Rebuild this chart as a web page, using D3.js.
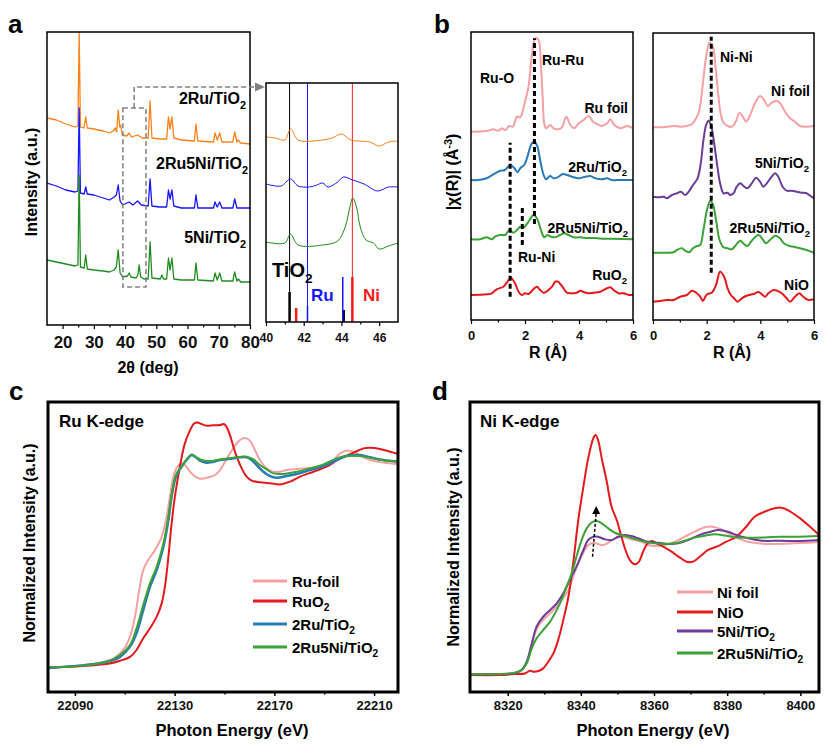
<!DOCTYPE html>
<html><head><meta charset="utf-8">
<script src="https://cdn.jsdelivr.net/npm/d3@7"></script>
<style>body{margin:0;background:#fff}</style>
</head><body><svg id="c" width="831" height="747"></svg>
<script>
// ---------- DATA ----------
// Panel a: XRD (2θ in deg, intensity a.u., stacked)
const xrdTicks = [20,30,40,50,60,70,80];
const xrdMinor = [25,35,45,55,65,75];
const xrd2Ru = [[15,207],[18,205],[21,201],[24,198],[24.9,199],[25.3,293],[25.7,198],[26.8,197],[27.4,208],[27.9,197],[30,196],[33,194],[35,192],[36.2,194],[36.9,197],[37.3,193],[37.8,215],[38.3,198],[38.6,200],[39.1,190],[40.5,189],[41.3,192],[42,188],[44,190],[45.5,187],[47.4,187],[48,224],[48.6,187],[51,186],[53.3,186],[53.9,208],[54.4,196],[55.0,208],[55.6,187],[58,185],[62.2,184],[62.7,201],[63.3,184],[68.3,183],[68.8,192],[69.5,185],[70.3,192],[71,183],[74.5,183],[75.1,193],[75.8,183],[76.2,185],[77,182],[80,181]];
const xrd2Ru5Ni = [[15,142],[18,139],[21,135],[24,133],[24.9,134],[25.3,217],[25.7,132],[26.9,131],[27.4,138],[27.9,131],[30,130],[33,127],[35,125],[36.5,128],[37.2,130],[37.8,140],[38.4,124],[39.2,120],[41.3,123],[42.5,120],[44,124],[45.2,120],[47.4,119],[48,146],[48.6,119],[51,118],[53.3,118],[53.9,135],[54.4,126],[55,135],[55.6,119],[58,117],[62.2,117],[62.7,130],[63.3,117],[68.3,117],[68.8,123],[69.5,118],[70.3,123],[71,117],[74.5,117],[75.1,126],[75.8,117],[80,117]];
const xrd5Ni = [[15,65],[18,63],[21,61],[24,59],[24.9,60],[25.3,150],[25.7,58],[26.9,57],[27.4,70],[27.9,56],[30,55],[33,54],[35,53],[36.5,55],[37.2,58],[37.8,75],[38.4,52],[39.2,48],[40.8,49],[41.3,52],[41.9,48],[43.5,47],[44.1,50],[44.5,60],[45,48],[46,46],[47.4,46],[48,83],[48.6,47],[51.3,46],[51.8,50],[52.3,46],[53.3,46],[53.9,67],[54.4,55],[55,67],[55.6,46],[58,45],[62.2,45],[62.7,62],[63.3,45],[68.3,44],[68.8,52],[69.5,45],[70.3,52],[71,44],[74.5,44],[75.1,53],[75.8,44],[76.3,46],[77,43],[80,43]];
// Inset (40-47 deg)
const insetTicks = [40,42,44,46];
const insetMinor = [41,43,45];
const inset2Ru = [[40,185],[40.5,184],[41.0,182],[41.3,193],[41.7,182],[42.5,181],[43.5,184],[44.0,188],[44.5,182],[45.5,180],[46.0,176],[46.5,180],[47,181]];
const inset2Ru5Ni = [[40,138],[40.8,136],[41.3,143],[41.7,136],[42.3,135],[42.7,137],[43.0,139],[43.3,135],[43.8,140],[44.1,145],[44.6,142],[45.2,138],[45.9,131],[46.5,135],[47,135]];
const inset5Ni = [[40,80],[41.0,79],[41.3,88],[41.7,77],[43,77],[43.8,81],[44.2,95],[44.45,115],[44.6,124],[44.8,115],[45.0,95],[45.3,82],[45.7,79],[46.0,73],[46.5,76],[47,79]];
const tio2Line = 41.25, ruLine = 42.2, niLine = 44.58;
const tio2Bars = [[41.25,30],[44.12,12]];
const ruBars = [[42.2,16],[44.07,45]];
const niBars = [[41.6,14],[44.58,45]];

// Panel b: EXAFS |χ(R)| (R in Å, stacked a.u.)
const rTicks = [0,2,4,6], rMinor = [1,3,5];
const ftRuFoil = [[0,188.3],[.58,189],[.83,190.7],[1.01,189.3],[1.14,191.7],[1.26,190],[1.42,194],[1.55,193.3],[1.70,203.3],[1.82,202.7],[2.00,218.3],[2.13,233.3],[2.25,263.3],[2.38,281.7],[2.50,280],[2.59,253.3],[2.66,220],[2.71,196.7],[2.78,191.7],[2.93,195],[3.06,191.7],[3.24,190.7],[3.37,192.7],[3.53,203.3],[3.68,195],[3.82,191.7],[3.99,196.7],[4.17,200],[4.36,204],[4.52,198.3],[4.67,196],[4.85,194],[5.04,196.7],[5.16,200.7],[5.31,195],[5.53,191.7],[5.78,194],[6.0,191.7]];
const ft2RuTi = [[0,140],[.27,140],[.58,141.7],[.89,146.7],[1.08,149.3],[1.26,150],[1.45,155],[1.61,151.7],[1.72,147.7],[1.82,151.7],[1.97,155],[2.09,163.3],[2.25,176.7],[2.35,178.3],[2.46,173.3],[2.56,160],[2.69,145],[2.78,140.7],[2.93,144],[3.06,141.7],[3.21,142.7],[3.40,146],[3.55,145],[3.74,143.3],[3.99,141.7],[4.23,143.3],[4.42,144],[4.60,141.7],[4.85,140.7],[5.04,141.7],[5.22,140],[5.53,140],[6.0,140]];
const ft2Ru5NiRu = [[0,80.7],[.33,80.7],[.58,82.7],[.77,80.7],[.89,83.3],[1.08,85],[1.26,85],[1.42,90],[1.57,87.3],[1.70,90],[1.82,93.3],[1.94,92.3],[2.04,95],[2.17,100],[2.31,105],[2.44,101.7],[2.59,90],[2.71,82.7],[2.83,85],[2.96,83.3],[3.12,82.7],[3.30,85],[3.45,86.7],[3.61,85],[3.80,82.7],[4.05,82.7],[4.29,82],[4.54,82],[4.85,81.3],[5.28,81.3],[6.0,80.7]];
const ftRuO2 = [[0,25],[.58,25.7],[.77,26.7],[.95,30.7],[1.20,33.3],[1.35,38.3],[1.47,42.3],[1.63,36.7],[1.76,28.3],[1.88,25],[2.00,26.7],[2.13,26],[2.31,30.7],[2.44,33.3],[2.56,30],[2.69,27.3],[2.81,28.7],[3.00,33.3],[3.12,38.3],[3.22,38.3],[3.37,34],[3.55,27.3],[3.70,26.7],[3.92,27.3],[4.05,29.3],[4.17,28],[4.36,26.7],[4.54,27.3],[4.79,28.3],[5.04,31.7],[5.16,32.7],[5.28,30],[5.47,26.7],[5.66,26.7],[5.84,25],[6.0,25]];
const ruMarks = [[2.35,96,281.7],[1.45,23.3,177.3],[1.9,75,114]];
const ftNiFoil = [[0,192.7],[.27,192.7],[.52,193.3],[.77,194],[1.02,193.3],[1.26,194],[1.45,196],[1.61,201.7],[1.73,210],[1.86,236.7],[1.98,263.3],[2.11,277.3],[2.23,273.3],[2.33,253.3],[2.44,223.3],[2.53,205],[2.63,197.3],[2.78,194],[2.94,193.3],[3.10,199.3],[3.22,207.3],[3.35,203.3],[3.47,198.3],[3.62,205],[3.80,216.7],[3.99,224],[4.14,220],[4.28,214],[4.42,217.3],[4.61,219.3],[4.76,216],[4.92,208.3],[5.11,201.7],[5.29,198.3],[5.48,194],[5.72,193.3],[6.0,194]];
const ft5NiTi = [[0,123.3],[.21,122.7],[.40,123.3],[.52,121.7],[.71,125],[.89,126.7],[1.04,128.3],[1.20,125],[1.33,128.3],[1.49,135],[1.66,141.7],[1.78,156.7],[1.88,180],[1.98,195],[2.07,199.3],[2.16,195],[2.28,176.7],[2.40,153.3],[2.50,136.7],[2.63,126.7],[2.78,127.3],[2.87,125],[3.00,126.7],[3.12,133.3],[3.25,136.7],[3.40,133.3],[3.52,131.7],[3.68,136.7],[3.84,142.3],[3.99,138.3],[4.11,133.3],[4.24,136.7],[4.42,143.3],[4.55,146.7],[4.67,143.3],[4.83,133.3],[4.98,129.3],[5.17,129.3],[5.35,128.3],[5.54,127.3],[5.72,126.7],[5.87,124],[6.0,121.7]];
const ft2Ru5NiNi = [[0,67.3],[.27,67.3],[.52,67.3],[.77,67.7],[.89,70],[1.08,71.7],[1.20,69.3],[1.35,67.7],[1.49,71.7],[1.64,74],[1.76,75],[1.88,90],[2.01,110],[2.13,119],[2.23,116],[2.35,100],[2.48,80],[2.63,72.7],[2.78,71.7],[2.94,70.7],[3.06,74],[3.25,79.3],[3.40,75.7],[3.52,74],[3.68,79.3],[3.93,85],[4.09,80.7],[4.21,76.7],[4.36,80],[4.55,84.3],[4.71,82.3],[4.88,76.7],[5.08,74],[5.25,73.3],[5.48,71.7],[5.72,70],[6.0,67.3]];
const ftNiO = [[0,18.3],[.27,19],[.52,20],[.77,20],[1.02,23.3],[1.26,25],[1.45,29.3],[1.61,27.3],[1.76,23.3],[1.86,19],[1.95,23.3],[2.03,26],[2.19,27.3],[2.35,35],[2.50,48.3],[2.65,43.3],[2.78,31.7],[2.90,25],[3.02,21.7],[3.15,18.3],[3.31,21.7],[3.49,24.3],[3.74,26],[3.93,28],[4.05,26],[4.18,23.3],[4.30,26.7],[4.49,30],[4.63,29.3],[4.80,26.7],[4.98,21.7],[5.11,18.3],[5.29,23.3],[5.45,26.7],[5.60,23.3],[5.79,20],[6.0,20.7]];
const niMarks = [[2.17,47.3,283.3]];

// Panel c: Ru K-edge XANES (eV, normalized)
const ruTicks = [22090,22130,22170,22210], ruMinor = [22110,22150,22190];
const xRuFoil = [[22079.3,.002],[22093.3,.014],[22100,.026],[22105.4,.046],[22109.4,.087],[22112.1,.151],[22114.1,.247],[22115.8,.375],[22117.4,.471],[22119.4,.519],[22122.1,.567],[22124.8,.631],[22126.8,.728],[22128.1,.824],[22129.5,.920],[22131.1,.968],[22132.8,.984],[22134.1,.976],[22136.2,.944],[22138.8,.917],[22140.8,.910],[22143.5,.917],[22146.2,.928],[22148.2,.952],[22150.2,.992],[22152.2,1.032],[22154.9,1.080],[22157.3,1.104],[22158.9,1.104],[22160.5,1.088],[22162.2,1.048],[22164.2,1.0],[22166.9,.960],[22169.6,.944],[22172.3,.944],[22174.9,.952],[22179,.957],[22184.3,.963],[22188.3,.968],[22192.3,.984],[22196.4,1.032],[22199,1.045],[22201,1.043],[22203,1.032],[22205.7,1.013],[22208.4,1.0],[22212.4,.990],[22216.4,.984],[22219.8,.979]];
const xRuO2 = [[22079.3,.002],[22093.3,.010],[22104,.022],[22108.1,.035],[22112.1,.054],[22114.7,.087],[22117.4,.143],[22120.1,.191],[22122.8,.247],[22124.8,.311],[22126.1,.391],[22127.5,.535],[22128.8,.696],[22130.1,.824],[22132.1,.968],[22134.1,1.080],[22136.2,1.144],[22137.8,1.176],[22139.1,1.181],[22140.8,1.173],[22142.8,1.165],[22145.5,1.167],[22148.2,1.168],[22149.8,1.173],[22150.9,1.157],[22152.2,1.120],[22153.5,1.067],[22154.9,1.016],[22156.9,.960],[22158.9,.920],[22160.9,.901],[22164.2,.893],[22168.3,.888],[22172.3,.883],[22176.3,.896],[22180.3,.920],[22185.7,.944],[22191,.968],[22196.4,1.008],[22201.7,1.035],[22205.7,1.056],[22208.4,1.059],[22212.4,1.053],[22216.4,1.040],[22219.8,1.029]];
const xRu2Ti = [[22079.3,.002],[22093.3,.013],[22102.7,.029],[22108.1,.054],[22112.1,.103],[22114.7,.167],[22117.4,.279],[22120.1,.391],[22122.8,.471],[22125.5,.583],[22127.5,.712],[22128.8,.824],[22130.5,.920],[22132.8,.968],[22134.8,1.0],[22136.8,1.024],[22138.2,1.016],[22140.2,.997],[22142.8,.987],[22145.5,.992],[22148.2,1.0],[22152.2,1.006],[22156.2,1.013],[22158.9,1.013],[22160.9,1.0],[22162.9,.976],[22165.6,.944],[22168.3,.923],[22170.9,.915],[22174.9,.923],[22179,.933],[22184.3,.952],[22189.7,.971],[22195,1.0],[22199,1.019],[22204.4,1.024],[22208.4,1.013],[22213.7,1.0],[22219.8,.992]];
const xRu2Ni5Ti = [[22079.3,.002],[22093.3,.013],[22102.7,.030],[22108.1,.063],[22112.1,.111],[22114.7,.191],[22117.4,.303],[22120.1,.407],[22122.8,.487],[22125.5,.599],[22127.5,.728],[22128.8,.832],[22130.5,.928],[22132.8,.971],[22134.8,1.003],[22136.8,1.026],[22138.8,1.013],[22140.8,1.0],[22144.2,.995],[22148.2,1.003],[22153.5,1.011],[22158.9,1.016],[22161.6,1.003],[22164.2,.976],[22166.9,.955],[22169.6,.936],[22173.6,.933],[22179,.944],[22184.3,.960],[22189.7,.979],[22195,1.008],[22199,1.019],[22204.4,1.019],[22209.7,1.008],[22215,.997],[22219.8,.994]];

// Panel d: Ni K-edge XANES
const niTicks = [8320,8340,8360,8380,8400], niMinor = [8330,8350,8370,8390];
const xNiFoil = [[8309.7,0],[8317.5,.002],[8322,.012],[8323.8,.032],[8325.2,.083],[8326.4,.208],[8327.5,.309],[8328.8,.384],[8330.6,.434],[8332.5,.485],[8334.7,.560],[8336.6,.636],[8337.9,.736],[8339.3,.836],[8340.7,.917],[8342,.974],[8343.4,.992],[8344.7,.982],[8346.1,.974],[8347.5,.992],[8349.3,1.025],[8351.1,1.037],[8352.9,1.025],[8354.8,1.012],[8356.6,.999],[8358.4,.974],[8360.2,.967],[8362.9,.974],[8365.7,.999],[8368.4,1.037],[8371.1,1.075],[8373.9,1.108],[8376.1,1.112],[8378.4,1.092],[8380.7,1.057],[8383,1.025],[8385.7,.999],[8388.4,.987],[8391.2,.982],[8394.8,.982],[8398.4,.987],[8402.1,.992],[8405.1,.997]];
const xNiO = [[8309.7,-.005],[8317.5,-.005],[8322,.002],[8324.7,.007],[8326.1,.027],[8327,.020],[8328.4,.025],[8329.7,.045],[8331.1,.095],[8332.5,.158],[8333.8,.258],[8335.2,.409],[8336.6,.585],[8337.9,.836],[8339.3,1.163],[8340.7,1.414],[8342,1.627],[8343.4,1.778],[8344,1.803],[8344.7,1.766],[8345.8,1.615],[8347,1.464],[8348.4,1.263],[8349.8,1.163],[8351.1,1.037],[8352.2,.937],[8353.4,.861],[8354.8,.829],[8355.9,.849],[8357,.924],[8358.4,.992],[8359.5,1.004],[8360.7,.987],[8362.5,.962],[8364.8,.924],[8367,.881],[8368.9,.849],[8370.7,.849],[8372.5,.886],[8374.8,.937],[8377.1,.962],[8379.8,1.0],[8382.5,1.037],[8385.2,1.112],[8387.5,1.188],[8390.2,1.225],[8393,1.251],[8394.8,1.256],[8396.6,1.238],[8399.3,1.188],[8402.1,1.125],[8405.1,1.050]];
const xNi5Ti = [[8309.7,0],[8317.5,.002],[8321.5,.007],[8323.8,.032],[8325.2,.095],[8326.6,.233],[8327.9,.359],[8329.7,.434],[8331.6,.485],[8333.4,.535],[8335.2,.611],[8337,.711],[8338.8,.811],[8340.7,.937],[8342,1.012],[8343.4,1.037],[8344.7,1.037],[8346.6,1.017],[8348.4,1.012],[8350.2,1.037],[8352,1.050],[8353.8,1.042],[8355.7,1.025],[8358.4,.999],[8361.1,.992],[8363.9,.982],[8366.6,.987],[8369.3,1.012],[8372,1.045],[8374.8,1.070],[8377.5,1.087],[8380.2,1.075],[8383,1.045],[8385.7,1.025],[8389.3,1.007],[8394.8,1.007],[8399.3,1.004],[8405.1,1.012]];
const xNiRu2Ni5Ti = [[8309.7,0],[8317.5,.002],[8322,.012],[8323.8,.032],[8325.2,.083],[8326.6,.196],[8327.9,.271],[8329.7,.334],[8331.6,.397],[8333.4,.485],[8334.7,.560],[8336.1,.661],[8337.5,.761],[8338.8,.886],[8340.2,1.012],[8341.6,1.100],[8342.9,1.143],[8344.3,1.155],[8345.7,1.138],[8347.5,1.100],[8349.3,1.067],[8351.1,1.050],[8352.9,1.037],[8354.8,1.020],[8357.5,.999],[8360.2,.987],[8362.9,.982],[8365.7,.987],[8368.4,1.007],[8371.1,1.030],[8373.9,1.045],[8376.6,1.055],[8379.3,1.047],[8382.1,1.032],[8385.7,1.030],[8390.2,1.032],[8394.8,1.037],[8399.3,1.037],[8405.1,1.042]];
const niArrow = [[8343.2,.886],[8344.2,1.268]];

// ---------- DRAWING ----------
const FONT = "Arial, 'Liberation Sans', Helvetica, sans-serif";
const svg = d3.select("#c");
svg.append("rect").attr("width",831).attr("height",747).attr("fill","#fff");
const C = {orange:"#ff8019", blue:"#1616ff", green:"#1f8c1f", pink:"#f6a0a4", red:"#e3191c", sblue:"#2a7ab8", sgreen:"#3aa236", purple:"#6a3d9a"};

function rich(g, x, y, str, size, opt={}) {
  const t = g.append("text").attr("x",x).attr("y",y).attr("font-size",size)
    .attr("font-family",FONT).attr("font-weight","bold")
    .attr("text-anchor",opt.anchor||"start").attr("fill",opt.color||"#000");
  if (opt.rotate) t.attr("transform",`rotate(${opt.rotate},${x},${y})`);
  const parts = str.split(/(_\{[^}]*\}|\^\{[^}]*\}|_.|\^.)/).filter(s=>s.length);
  let off = 0;
  parts.forEach(p=>{
    if (p[0]==="_"||p[0]==="^") {
      const txt = p[1]==="{" ? p.slice(2,-1) : p.slice(1);
      const sh = p[0]==="_" ? size*0.3 : -size*0.4;
      t.append("tspan").attr("dy",sh-off).attr("font-size",size*0.68).text(txt);
      off = sh;
    } else {
      t.append("tspan").attr("dy",-off).text(p);
      off = 0;
    }
  });
  return t;
}
function frame(g,x0,y0,x1,y1,w){
  g.append("rect").attr("x",x0).attr("y",y0).attr("width",x1-x0).attr("height",y1-y0)
   .attr("fill","none").attr("stroke","#000").attr("stroke-width",w);
}
function bottomAxis(g, scale, y, major, minor, size, pad, sw) {
  const a = g.append("g").attr("transform",`translate(0,${y})`)
    .call(d3.axisBottom(scale).tickValues(major).tickSize(4).tickPadding(pad).tickFormat(d3.format("d")));
  a.select(".domain").remove();
  a.selectAll("line").attr("stroke","#000").attr("stroke-width",sw);
  a.selectAll("text").attr("font-size",size).attr("font-family",FONT).attr("font-weight","bold").attr("fill","#111");
  if (minor) {
    const m = g.append("g").attr("transform",`translate(0,${y})`)
      .call(d3.axisBottom(scale).tickValues(minor).tickSize(2.5).tickFormat(""));
    m.select(".domain").remove();
    m.selectAll("line").attr("stroke","#000").attr("stroke-width",sw);
  }
}
let clipId = 0;
function clip(g,x0,y0,x1,y1){
  const id = "cl"+(clipId++);
  svg.append("clipPath").attr("id",id).append("rect").attr("x",x0).attr("y",y0).attr("width",x1-x0).attr("height",y1-y0);
  return g.append("g").attr("clip-path",`url(#${id})`);
}
function path(g, data, x, y, color, w, curve){
  g.append("path").datum(data).attr("fill","none").attr("stroke",color).attr("stroke-width",w)
   .attr("stroke-linejoin","round")
   .attr("d", d3.line().x(d=>x(d[0])).y(d=>y(d[1])).curve(curve||d3.curveLinear));
}
const smooth = d3.curveCatmullRom.alpha(0.5);

// ---- Panel a ----
const ga = svg.append("g");
const xa = d3.scaleLinear().domain([15,80]).range([47,250]);
const ya = d3.scaleLinear().domain([0,293]).range([325,32]);
const pa = clip(ga,47,32,250,325);
path(pa, xrd2Ru, xa, ya, C.orange, 1.3);
path(pa, xrd2Ru5Ni, xa, ya, C.blue, 1.3);
path(pa, xrd5Ni, xa, ya, C.green, 1.3);
frame(ga,47,32,250,325,1.5);
bottomAxis(ga, xa, 325, xrdTicks, xrdMinor, 17, 7, 1.2);
rich(ga, 246, 104, "2Ru/TiO_2", 16, {anchor:"end"});
rich(ga, 248, 169, "2Ru5Ni/TiO_2", 16, {anchor:"end"});
rich(ga, 246, 243, "5Ni/TiO_2", 16, {anchor:"end"});
rich(ga, 37, 182, "Intensity (a.u.)", 16, {anchor:"middle", rotate:-90});
rich(ga, 148, 373, "2θ (deg)", 16, {anchor:"middle"});
rich(ga, 8, 33, "a", 26);
// zoom box + connector
ga.append("rect").attr("x",xa(39.3)).attr("y",ya(217)).attr("width",xa(46.7)-xa(39.3)).attr("height",ya(38)-ya(217))
  .attr("fill","none").attr("stroke","#808080").attr("stroke-width",1.5).attr("stroke-dasharray","5,3");
ga.append("path").attr("d",`M${xa(42.9)},${ya(217)}V87H256`).attr("fill","none").attr("stroke","#808080")
  .attr("stroke-width",1.5).attr("stroke-dasharray","5,3");
ga.append("path").attr("d","M255,82.5L265,87L255,91.5Z").attr("fill","#808080");

// ---- Inset ----
const gi = svg.append("g");
const xi = d3.scaleLinear().domain([40,47]).range([266,398]);
const yi = d3.scaleLinear().domain([0,239]).range([322,83]);
const pi = clip(gi,266,83,398,322);
pi.append("line").attr("x1",xi(tio2Line)).attr("x2",xi(tio2Line)).attr("y1",83).attr("y2",322).attr("stroke","#000").attr("stroke-width",1);
pi.append("line").attr("x1",xi(ruLine)).attr("x2",xi(ruLine)).attr("y1",83).attr("y2",322).attr("stroke","#1616ff").attr("stroke-width",1);
pi.append("line").attr("x1",xi(niLine)).attr("x2",xi(niLine)).attr("y1",83).attr("y2",322).attr("stroke","#ff1a1a").attr("stroke-width",1);
path(pi, inset2Ru, xi, yi, C.orange, 1, smooth);
path(pi, inset2Ru5Ni, xi, yi, C.blue, 1, smooth);
path(pi, inset5Ni, xi, yi, C.green, 1, smooth);
[[tio2Bars,"#000",2.5],[ruBars,"#1616ff",1.5],[niBars,"#ff1a1a",2.5]].forEach(([bars,col,w])=>{
  bars.forEach(b=>pi.append("line").attr("x1",xi(b[0])).attr("x2",xi(b[0])).attr("y1",yi(0)).attr("y2",yi(b[1]))
    .attr("stroke",col).attr("stroke-width",w));
});
frame(gi,266,83,398,322,1.5);
bottomAxis(gi, xi, 322, insetTicks, insetMinor, 12, 7.5, 1.2);
rich(gi, 272, 277, "TiO_2", 20);
rich(gi, 311, 301, "Ru", 17, {color:"#1616ff"});
rich(gi, 363, 301, "Ni", 17, {color:"#ff1a1a"});

// ---- Panel b ----
const gb = svg.append("g");
const xb1 = d3.scaleLinear().domain([0,6]).range([471,633]);
const yb1 = d3.scaleLinear().domain([0,288]).range([320,32]);
const xb2 = d3.scaleLinear().domain([0,6]).range([653,814]);
const yb2 = d3.scaleLinear().domain([0,287]).range([320,33]);
const pb1 = clip(gb,471,32,633,320);
path(pb1, ftRuFoil, xb1, yb1, C.pink, 2, smooth);
path(pb1, ft2RuTi, xb1, yb1, C.sblue, 2, smooth);
path(pb1, ft2Ru5NiRu, xb1, yb1, C.sgreen, 2, smooth);
path(pb1, ftRuO2, xb1, yb1, C.red, 2, smooth);
ruMarks.forEach(m=>pb1.append("line").attr("x1",xb1(m[0])).attr("x2",xb1(m[0])).attr("y1",yb1(m[1])).attr("y2",yb1(m[2]))
  .attr("stroke","#000").attr("stroke-width",3).attr("stroke-dasharray","5,3"));
frame(gb,471,32,633,320,1.5);
bottomAxis(gb, xb1, 320, rTicks, rMinor, 13, 7, 1.2);
const pb2 = clip(gb,653,33,814,320);
path(pb2, ftNiFoil, xb2, yb2, C.pink, 2, smooth);
path(pb2, ft5NiTi, xb2, yb2, C.purple, 2, smooth);
path(pb2, ft2Ru5NiNi, xb2, yb2, C.sgreen, 2, smooth);
path(pb2, ftNiO, xb2, yb2, C.red, 2, smooth);
niMarks.forEach(m=>pb2.append("line").attr("x1",xb2(m[0])).attr("x2",xb2(m[0])).attr("y1",yb2(m[1])).attr("y2",yb2(m[2]))
  .attr("stroke","#000").attr("stroke-width",3).attr("stroke-dasharray","5,3"));
frame(gb,653,33,814,320,1.5);
bottomAxis(gb, xb2, 320, rTicks, rMinor, 13, 7, 1.2);
rich(gb, 434, 33, "b", 26);
rich(gb, 458, 172, "|χ(R)| (Å^{-3})", 16, {anchor:"middle", rotate:-90});
rich(gb, 548, 358, "R (Å)", 16, {anchor:"middle"});
rich(gb, 732, 358, "R (Å)", 16, {anchor:"middle"});
rich(gb, 480, 83, "Ru-O", 14);
rich(gb, 542, 65, "Ru-Ru", 14);
rich(gb, 628, 113, "Ru foil", 14, {anchor:"end"});
rich(gb, 627, 172, "2Ru/TiO_2", 14, {anchor:"end"});
rich(gb, 628, 233, "2Ru5Ni/TiO_2", 14, {anchor:"end"});
rich(gb, 518, 262, "Ru-Ni", 14);
rich(gb, 627, 280, "RuO_2", 14, {anchor:"end"});
rich(gb, 720, 62, "Ni-Ni", 14);
rich(gb, 810, 96, "Ni foil", 14, {anchor:"end"});
rich(gb, 809, 168, "5Ni/TiO_2", 14, {anchor:"end"});
rich(gb, 810, 233, "2Ru5Ni/TiO_2", 14, {anchor:"end"});
rich(gb, 809, 290, "NiO", 14, {anchor:"end"});

// ---- Panel c ----
const gc = svg.append("g");
const xc = d3.scaleLinear().domain([22079.2,22219.6]).range([48,398]);
const yc = d3.scaleLinear().domain([-0.115,1.279]).range([692,402]);
const pc = clip(gc,48,402,398,692);
path(pc, xRuFoil, xc, yc, C.pink, 2, smooth);
path(pc, xRuO2, xc, yc, C.red, 2, smooth);
path(pc, xRu2Ti, xc, yc, C.sblue, 2.5, smooth);
path(pc, xRu2Ni5Ti, xc, yc, C.sgreen, 2, smooth);
frame(gc,48,402,398,692,3);
bottomAxis(gc, xc, 692, ruTicks, ruMinor, 13, 4.5, 1.5);
rich(gc, 9, 400, "c", 26);
rich(gc, 59, 427, "Ru K-edge", 17);
rich(gc, 35, 543, "Normalized Intensity (a.u.)", 16, {anchor:"middle", rotate:-90});
rich(gc, 232, 736, "Photon Energy (eV)", 16.5, {anchor:"middle"});
[["Ru-foil",C.pink,581],["RuO_2",C.red,601],["2Ru/TiO_2",C.sblue,624],["2Ru5Ni/TiO_2",C.sgreen,647]].forEach(([t,col,y])=>{
  gc.append("line").attr("x1",253).attr("x2",287).attr("y1",y).attr("y2",y).attr("stroke",col).attr("stroke-width",3);
  rich(gc, 292, y+5.5, t, 15);
});

// ---- Panel d ----
const gd = svg.append("g");
const xd = d3.scaleLinear().domain([8309.7,8405.1]).range([470,819]);
const yd = d3.scaleLinear().domain([-0.133,2.052]).range([692,402]);
const pd = clip(gd,470,402,819,692);
path(pd, xNiFoil, xd, yd, C.pink, 2, smooth);
path(pd, xNiO, xd, yd, C.red, 2, smooth);
path(pd, xNi5Ti, xd, yd, C.purple, 2, smooth);
path(pd, xNiRu2Ni5Ti, xd, yd, C.sgreen, 2, smooth);
gd.append("line").attr("x1",xd(niArrow[0][0])).attr("y1",yd(niArrow[0][1])).attr("x2",xd(niArrow[1][0])).attr("y2",yd(niArrow[1][1])+6)
  .attr("stroke","#000").attr("stroke-width",1.5).attr("stroke-dasharray","3,2");
{
  const tx = xd(niArrow[1][0]), ty = yd(niArrow[1][1]);
  gd.append("path").attr("d",`M${tx},${ty}L${tx-4},${ty+8}L${tx+4},${ty+8}Z`).attr("fill","#000");
}
frame(gd,470,402,819,692,3);
bottomAxis(gd, xd, 692, niTicks, niMinor, 13, 4.5, 1.5);
rich(gd, 432, 400, "d", 26);
rich(gd, 480, 427, "Ni K-edge", 17);
rich(gd, 459, 547, "Normalized Intensity (a.u.)", 16, {anchor:"middle", rotate:-90});
rich(gd, 653, 736, "Photon Energy (eV)", 16.5, {anchor:"middle"});
[["Ni foil",C.pink,592],["NiO",C.red,612],["5Ni/TiO_2",C.purple,631],["2Ru5Ni/TiO_2",C.sgreen,653]].forEach(([t,col,y])=>{
  gd.append("line").attr("x1",677).attr("x2",713).attr("y1",y).attr("y2",y).attr("stroke",col).attr("stroke-width",3);
  rich(gd, 717, y+5.5, t, 15);
});
</script></body></html>
